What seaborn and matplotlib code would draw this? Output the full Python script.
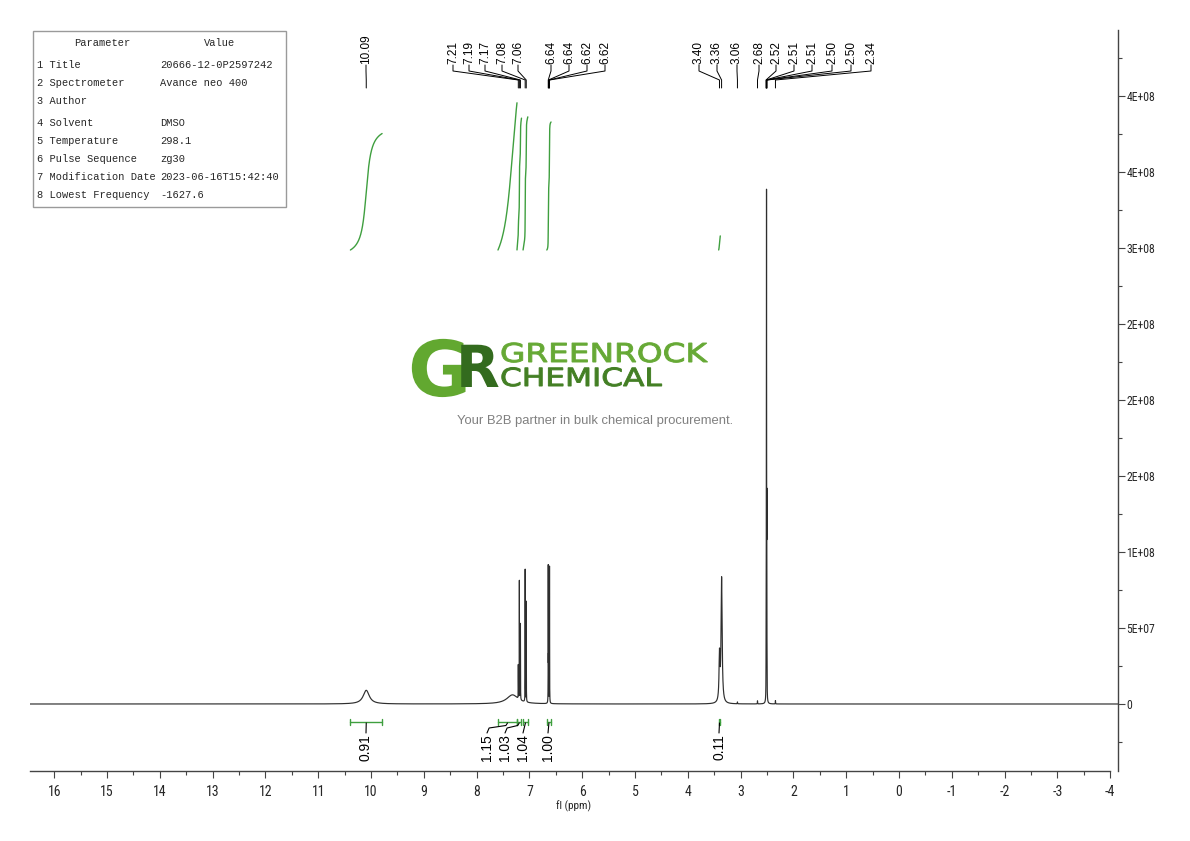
import numpy as np
import pandas as pd
import seaborn as sns
import matplotlib.pyplot as plt
import matplotlib.transforms as mtransforms
from matplotlib import font_manager
from matplotlib.font_manager import FontProperties
from matplotlib.patches import PathPatch, Rectangle
from matplotlib.textpath import TextPath

W, H = 1190, 841

# peak list of the 1H spectrum: shift (ppm), height, half width (ppm)
peak_ppm = [10.09, 7.32, 7.21, 7.19, 7.17, 7.08, 7.06, 6.643, 6.638, 6.624, 6.619,
            3.40, 3.36, 3.06, 2.68, 2.518, 2.513, 2.509, 2.504, 2.500, 2.34]
peak_height = [9.0e6, 6.0e6, 2.2e7, 7.8e7, 5.0e7, 8.7e7, 6.6e7, 8.9e7, 2.5e7, 2.5e7, 8.8e7,
               3.0e7, 8.2e7, 1.2e6, 2.0e6, 2.0e7, 1.1e8, 3.15e8, 1.1e8, 2.0e7, 2.2e6]
peak_hw = [0.07, 0.13, 0.0015, 0.0015, 0.0015, 0.0015, 0.0015, 0.0015, 0.0015, 0.0015, 0.0015,
           0.010, 0.012, 0.002, 0.002, 0.0015, 0.0015, 0.0015, 0.0015, 0.0015, 0.002]

# peak pick labels
top_labels = ["10.09", "7.21", "7.19", "7.17", "7.08", "7.06", "6.64", "6.64", "6.62", "6.62",
              "3.40", "3.36", "3.06", "2.68", "2.52", "2.51", "2.51", "2.50", "2.50", "2.34"]
top_peaks = [10.09, 7.21, 7.19, 7.17, 7.08, 7.06, 6.643, 6.638, 6.624, 6.619,
             3.40, 3.36, 3.06, 2.68, 2.518, 2.513, 2.509, 2.504, 2.500, 2.34]

# integrals
int_values = [0.91, 1.15, 1.03, 1.04, 1.00, 0.11]
int_start = [10.39, 7.595, 7.235, 7.12, 6.67, 3.415]
int_end = [9.79, 7.235, 7.15, 7.03, 6.59, 3.385]

# parameter table
param_names = ["1 Title", "2 Spectrometer", "3 Author", "4 Solvent", "5 Temperature",
               "6 Pulse Sequence", "7 Modification Date", "8 Lowest Frequency"]
param_values = ["20666-12-0P2597242", "Avance neo 400", "", "DMSO", "298.1",
                "zg30", "2023-06-16T15:42:40", "-1627.6"]

x_ticks = list(range(16, -5, -1))
y_ticks = [0, 5e7, 1e8, 1.5e8, 2e8, 2.5e8, 3e8, 3.5e8, 4e8]
y_tick_labels = ["0", "5E+07", "1E+08", "2E+08", "2E+08", "2E+08", "3E+08", "4E+08", "4E+08"]

GREEN = "#3f9f3f"
INK = "#2e2e2e"


# pixel <-> data helpers for the layout
def px2ppm(px):
    return (899 - px) / 52.8


def py2val(py):
    return (704 - py) / 76 * 5e7


def pick_font(cands):
    names = {f.name for f in font_manager.fontManager.ttflist}
    for c in cands:
        if c in names:
            return c
    return "DejaVu Sans"


sns.set_style("white")
plt.rcParams["font.family"] = ["Liberation Sans", "DejaVu Sans"]
narrow = pick_font(["Liberation Sans Narrow", "Roboto Condensed", "DejaVu Sans"])
mono = pick_font(["Liberation Mono", "DejaVu Sans Mono"])

# build the spectrum from the peak list
ppm = np.arange(px2ppm(30), px2ppm(1118), -0.0001)
spec = np.zeros_like(ppm)
for c, h, w in zip(peak_ppm, peak_height, peak_hw):
    spec += h / (1 + ((ppm - c) / w) ** 2)
df = pd.DataFrame({"ppm": ppm, "intensity": spec})

fig = plt.figure(figsize=(W / 100, H / 100), dpi=100)
ax = fig.add_axes([30 / W, (H - 771) / H, (1118 - 30) / W, (771 - 30) / H])

sns.lineplot(data=df, x="ppm", y="intensity", ax=ax, color=INK, lw=0.85,
             estimator=None, sort=False)

# integral curves
int_base = py2val(250)
int_unit = 128 / 76 * 5e7
for s, e, v in zip(int_start, int_end, int_values):
    m = (ppm <= s) & (ppm >= e)
    cum = np.cumsum(spec[m])
    cum = cum / cum[-1]
    sns.lineplot(x=ppm[m], y=int_base + cum * v * int_unit, ax=ax, color=GREEN,
                 lw=1.0, estimator=None, sort=False)

# integral brackets and labels
int_label_px = [366, 487, 505, 523, 548, 719]
yb = py2val(722)
for i, (s, e, v) in enumerate(zip(int_start, int_end, int_values)):
    ax.plot([s, e], [yb, yb], color=GREEN, lw=1)
    for xx in (s, e):
        ax.plot([xx, xx], [py2val(719), py2val(725)], color=GREEN, lw=1)
    mid = (s + e) / 2
    lx = px2ppm(int_label_px[i])
    if v in (1.15, 1.03):
        xs = [lx, lx - 0.04, mid + 0.03, mid]
        ys = [py2val(733), py2val(728), py2val(725.5), py2val(723)]
    else:
        xs = [lx, mid]
        ys = [py2val(733), py2val(723)]
    ax.plot(xs, ys, color="black", lw=0.8)
    ax.text(lx, py2val(734), f"{v:.2f}", rotation=90, ha="center", va="top",
            fontsize=10, color="black")

# peak pick labels at the top
top_label_px = [366, 453, 469, 485, 502, 518, 551, 569, 587, 605,
                699, 717, 737, 759, 776, 794, 812, 832, 851, 871]
for lab, pk, lpx in zip(top_labels, top_peaks, top_label_px):
    lx = px2ppm(lpx)
    ax.text(lx, py2val(64), lab, rotation=90, ha="center", va="bottom",
            fontsize=8.5, color="black")
    ax.plot([lx, lx, pk, pk], [py2val(65), py2val(71), py2val(80), py2val(88)],
            color="black", lw=0.7)

# axes styling
ax.set_xlim(px2ppm(30), px2ppm(1118))
ax.set_ylim(py2val(771), py2val(30))
for side in ["top", "left"]:
    ax.spines[side].set_visible(False)
for side in ["bottom", "right"]:
    ax.spines[side].set_color("#444444")
    ax.spines[side].set_linewidth(1.0)
ax.spines["bottom"].set_bounds(px2ppm(30), -4.0)
ax.yaxis.tick_right()
ax.set_xticks(x_ticks)
ax.set_xticklabels([str(t) for t in x_ticks], family=narrow, fontsize=10)
ax.set_xticks(np.arange(15.5, -4.0, -1), minor=True)
ax.set_yticks(y_ticks)
ax.set_yticklabels(y_tick_labels, family=narrow, fontsize=8.5)
ax.set_yticks(np.arange(-2.5e7, 4.4e8, 5e7), minor=True)
ax.tick_params(axis="x", which="major", direction="out", length=5, width=0.8,
               color="#444444", pad=5, bottom=True)
ax.tick_params(axis="x", which="minor", direction="out", length=3, width=0.8,
               color="#444444", bottom=True)
ax.tick_params(axis="y", which="major", direction="out", length=5, width=0.8,
               color="#444444", pad=1, right=True, left=False)
ax.tick_params(axis="y", which="minor", direction="out", length=3, width=0.8,
               color="#444444", right=True, left=False)
ax.set_xlabel("fl (ppm)", family=narrow, fontsize=8, labelpad=1)
ax.set_ylabel("")

# overlay in pixel coordinates for table and logo
ov = fig.add_axes([0, 0, 1, 1])
ov.set_xlim(0, W)
ov.set_ylim(H, 0)
ov.axis("off")

ov.add_patch(Rectangle((33, 31), 253, 176, facecolor="white", edgecolor="#9a9a9a", lw=1))
ov.text(102, 43, "Parameter", ha="center", va="center", family=mono, fontsize=7.5)
ov.text(220, 43, "Value", ha="center", va="center", family=mono, fontsize=7.5)
row_y = [65, 83, 101, 123, 141, 159, 177, 195]
for yy, n, v in zip(row_y, param_names, param_values):
    ov.text(37, yy, n, ha="left", va="center", family=mono, fontsize=7.5)
    ov.text(160, yy, v, ha="left", va="center", family=mono, fontsize=7.5)


def path_text(s, x, y_base, em, sx, color, weight="normal", edge=0.0):
    tp = TextPath((0, 0), s, size=em, prop=FontProperties(family="DejaVu Sans", weight=weight))
    tr = mtransforms.Affine2D().scale(sx, -1.0).translate(x, y_base) + ov.transData
    ov.add_patch(PathPatch(tp, transform=tr, facecolor=color, edgecolor=color, lw=edge))


path_text("G", 408, 396, 77, 1.0, "#62a830", weight="bold")
path_text("R", 456, 387, 58, 0.98, "#336b1e", weight="bold")
path_text("GREENROCK", 500, 362, 26, 1.26, "#66a935", edge=0.7)
path_text("CHEMICAL", 500, 386, 25, 1.25, "#437f24", edge=0.7)
ov.text(595, 421, "Your B2B partner in bulk chemical procurement.", ha="center",
        va="center", fontsize=9.4, color="#808080")

fig.savefig("out.png", dpi=100)
